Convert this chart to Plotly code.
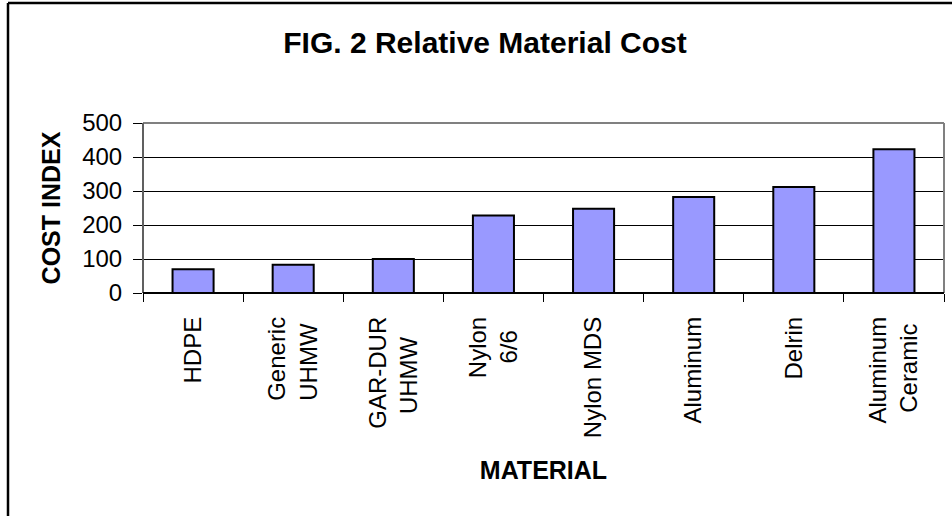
import plotly.graph_objects as go

categories = ["HDPE", "Generic<br>UHMW", "GAR-DUR<br>UHMW", "Nylon<br>6/6",
              "Nylon MDS", "Aluminum", "Delrin", "Aluminum<br>Ceramic"]
cost_index = [70, 83, 100, 228, 248, 282, 312, 423]
y_ticks = [0, 100, 200, 300, 400, 500]

FONT = "Arial, Liberation Sans, sans-serif"

# approximate Arial advance widths (em) used to centre the lines of rotated labels
_W = {c: 0.556 for c in "abdeghnopqu0123456789"}
_W.update({"c": 0.5, "f": 0.278, "i": 0.222, "j": 0.222, "k": 0.5, "l": 0.222,
           "m": 0.833, "r": 0.333, "s": 0.5, "t": 0.278, "v": 0.5, "w": 0.722,
           "x": 0.5, "y": 0.5, "z": 0.5, " ": 0.278, "-": 0.333, "/": 0.278,
           "A": 0.667, "C": 0.722, "D": 0.722, "E": 0.667, "G": 0.778, "H": 0.722,
           "M": 0.833, "N": 0.722, "P": 0.667, "R": 0.722, "U": 0.722, "W": 0.944})


def text_w(s):
    return sum(_W.get(ch, 0.6) for ch in s)


def centred(label):
    lines = label.split("<br>")
    if len(lines) == 1:
        return label
    widest = max(text_w(s) for s in lines)
    out = []
    for s in lines:
        n = int(round((widest - text_w(s)) / 2 / 0.278))
        out.append(s + "\u00a0" * n)
    return "<br>".join(out)


fig = go.Figure()
fig.add_trace(go.Bar(
    x=categories, y=cost_index,
    marker=dict(color="#9999FF", line=dict(color="black", width=2)),
))

W, H = 952, 516
L, R, T, B = 143, 8, 123, 223
pw, ph = W - L - R, H - T - B


def px(xp):
    return (xp - L) / pw


def py(yp):
    return (H - B - yp) / ph


fig.update_layout(
    width=W, height=H,
    margin=dict(l=L, r=R, t=T, b=B, autoexpand=False),
    paper_bgcolor="white", plot_bgcolor="white",
    bargap=0.59, showlegend=False,
    font=dict(family=FONT, color="black"),
    title=dict(text="FIG. 2 Relative Material Cost", x=485 / W, xref="container",
               xanchor="center", y=1 - 42 / H, yref="container", yanchor="middle",
               font=dict(size=30, weight="bold", family=FONT)),
    xaxis=dict(
        type="category", tickangle=-90, tickfont=dict(size=24),
        tickmode="array", tickvals=categories,
        ticktext=[centred(c) for c in categories],
        ticks="outside", tickson="boundaries", ticklen=8, tickcolor="black",
        ticklabelstandoff=18,
        showline=False, showgrid=False, automargin=False,
        title=dict(text="MATERIAL", font=dict(size=25, weight="bold"), standoff=24),
    ),
    yaxis=dict(
        range=[0, 500], tickvals=y_ticks, tickfont=dict(size=24),
        ticks="outside", ticklen=9, tickcolor="black", ticklabelstandoff=6,
        showgrid=True, gridcolor="black", gridwidth=1,
        showline=False, zeroline=False, automargin=False,
        title=dict(text="COST INDEX", font=dict(size=25, weight="bold"), standoff=14),
    ),
    shapes=[
        dict(type="line", xref="paper", yref="paper", x0=0, x1=1, y0=1, y1=1,
             line=dict(color="#808080", width=2)),
        dict(type="line", xref="paper", yref="paper", x0=1, x1=1, y0=0, y1=1,
             line=dict(color="#808080", width=2)),
        dict(type="line", xref="paper", yref="paper", x0=0, x1=0, y0=0, y1=1,
             line=dict(color="#606060", width=2)),
        dict(type="line", xref="paper", yref="paper", x0=0, x1=1, y0=0, y1=0,
             line=dict(color="black", width=2)),
        dict(type="line", xref="paper", yref="paper", x0=px(8), x1=px(8),
             y0=py(3), y1=py(560), line=dict(color="black", width=2.5)),
        dict(type="line", xref="paper", yref="paper", x0=px(8), x1=px(990),
             y0=py(3), y1=py(3), line=dict(color="black", width=2.5)),
    ],
)

fig.write_html("out.html", config={"displayModeBar": False},
               post_script="document.body.style.margin='0';"
                           "document.body.style.overflow='hidden';")
